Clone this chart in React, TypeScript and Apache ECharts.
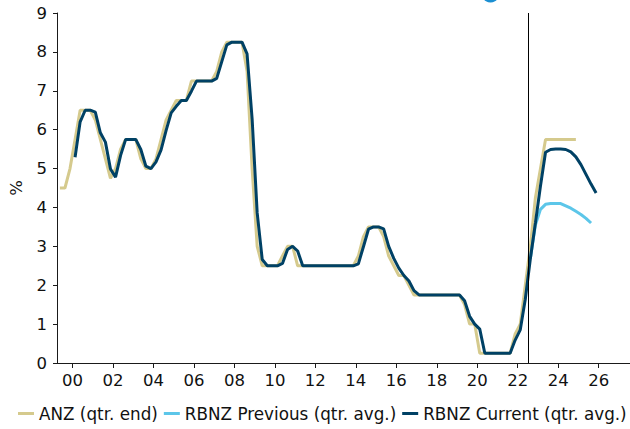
import React, { useEffect, useRef } from "react";
import * as echarts from "echarts";

// Quarterly series; index 0 = 1999 Q2, points plotted at mid-quarter
const FIRST_YEAR = 1999;
const FIRST_QUARTER = 2;

const anzStartIndex = 0; // 1999 Q2
const anzQtrEnd = [
  4.5, 4.5, 5.0, 5.75, 6.5, 6.5, 6.5, 6.25, 5.75, 5.25, 4.75, 5.0, 5.5, 5.75, 5.75, 5.75,
  5.25, 5.0, 5.0, 5.25, 5.75, 6.25, 6.5, 6.75, 6.75, 6.75, 7.25, 7.25, 7.25, 7.25, 7.25, 7.5,
  8.0, 8.25, 8.25, 8.25, 8.25, 7.5, 5.0, 3.0, 2.5, 2.5, 2.5, 2.5, 2.75, 3.0, 3.0, 2.5,
  2.5, 2.5, 2.5, 2.5, 2.5, 2.5, 2.5, 2.5, 2.5, 2.5, 2.5, 2.75, 3.25, 3.5, 3.5, 3.5,
  3.25, 2.75, 2.5, 2.25, 2.25, 2.0, 1.75, 1.75, 1.75, 1.75, 1.75, 1.75, 1.75, 1.75, 1.75, 1.75,
  1.5, 1.0, 1.0, 0.25, 0.25, 0.25, 0.25, 0.25, 0.25, 0.25, 0.75, 1.0, 2.0, 3.0, 4.25, 5.0,
  5.75, 5.75, 5.75, 5.75, 5.75, 5.75, 5.75,
];

const rbnzPreviousStartIndex = 93; // 2022 Q3
const rbnzPreviousAvg = [2.68, 3.55, 3.95, 4.08, 4.1, 4.1, 4.1, 4.04, 3.98, 3.9, 3.82, 3.72, 3.6];

const rbnzCurrentStartIndex = 3; // 2000 Q1
const rbnzCurrentAvg = [
  5.29, 6.2, 6.5, 6.5, 6.45, 5.92, 5.68, 4.99, 4.78, 5.34, 5.75, 5.75, 5.75, 5.49, 5.06, 5.0,
  5.17, 5.48, 5.98, 6.43, 6.6, 6.75, 6.75, 6.99, 7.25, 7.25, 7.25, 7.25, 7.32, 7.75, 8.18, 8.25,
  8.25, 8.25, 7.95, 6.28, 3.86, 2.66, 2.5, 2.5, 2.5, 2.56, 2.92, 3.0, 2.88, 2.5, 2.5, 2.5,
  2.5, 2.5, 2.5, 2.5, 2.5, 2.5, 2.5, 2.5, 2.55, 2.99, 3.44, 3.5, 3.5, 3.45, 3.0, 2.69,
  2.44, 2.25, 2.11, 1.86, 1.75, 1.75, 1.75, 1.75, 1.75, 1.75, 1.75, 1.75, 1.75, 1.6, 1.2, 1.0,
  0.87, 0.25, 0.25, 0.25, 0.25, 0.25, 0.25, 0.59, 0.85, 1.64, 2.68, 3.6, 4.55, 5.42, 5.49, 5.5,
  5.5, 5.49, 5.43, 5.3, 5.1, 4.85, 4.6, 4.37,
];

const xTickLabels = ["00", "02", "04", "06", "08", "10", "12", "14", "16", "18", "20", "22", "24", "26"];
const yTickLabels = ["0", "1", "2", "3", "4", "5", "6", "7", "8", "9"];
const forecastDivider = 2022.5;
const xMin = 1999.232;
const xMax = 2027.55;

const seriesNames = ["ANZ (qtr. end)", "RBNZ Previous (qtr. avg.)", "RBNZ Current (qtr. avg.)"];
const colors = ["#d5ca8d", "#5cc6e9", "#004165"];

function quarterMid(index: number): number {
  return FIRST_YEAR + (FIRST_QUARTER - 1 + index) / 4 + 0.125;
}

function toPoints(values: number[], start: number) {
  return values.map((v, i) => [quarterMid(start + i), v]);
}

export default function App() {
  const ref = useRef<HTMLDivElement>(null);

  useEffect(() => {
    if (!ref.current) return;
    const chart = echarts.init(ref.current, undefined, { renderer: "svg" });
    const tickYears = xTickLabels.map((t) => 2000 + parseInt(t, 10));
    const font = "DejaVu Sans, Verdana, sans-serif";
    const textColor = "#111111";
    const axisColor = "#1a1a1a";

    chart.setOption({
      animation: false,
      backgroundColor: "#ffffff",
      color: colors,
      textStyle: { fontFamily: font },
      grid: { left: 51, right: 0, top: 13, bottom: 66 },
      graphic: [
        {
          type: "circle",
          shape: { cx: 490.5, cy: -6.5, r: 9 },
          style: { fill: "#1b8fd2" },
          silent: true,
        },
      ],
      legend: {
        left: 18,
        top: 405,
        padding: 0,
        itemWidth: 16,
        itemHeight: 3,
        itemGap: 6,
        icon: "rect",
        data: seriesNames,
        textStyle: { fontSize: 16.8, color: textColor, fontFamily: font },
      },
      xAxis: {
        type: "value",
        min: xMin,
        max: xMax,
        splitLine: { show: false },
        axisLine: { show: true, lineStyle: { color: axisColor, width: 1 } },
        axisTick: {
          show: true,
          length: 5,
          customValues: tickYears,
          lineStyle: { color: axisColor },
        },
        axisLabel: {
          customValues: tickYears,
          margin: 9,
          fontSize: 16.5,
          color: textColor,
          fontFamily: font,
          formatter: (v: number) => xTickLabels[tickYears.indexOf(Math.round(v))] ?? "",
        },
      },
      yAxis: {
        type: "value",
        min: 0,
        max: 9,
        interval: 1,
        name: "%",
        nameLocation: "middle",
        nameGap: 32,
        nameRotate: 90,
        nameTextStyle: { fontSize: 16.5, color: textColor, fontFamily: font },
        splitLine: { show: false },
        axisLine: { show: true, lineStyle: { color: axisColor, width: 1 } },
        axisTick: { show: true, length: 4, lineStyle: { color: axisColor } },
        axisLabel: {
          margin: 10,
          fontSize: 16.5,
          color: textColor,
          fontFamily: font,
          formatter: (v: number) => yTickLabels[Math.round(v)] ?? "",
        },
      },
      series: [
        {
          name: seriesNames[0],
          type: "line",
          data: toPoints(anzQtrEnd, anzStartIndex),
          showSymbol: false,
          symbol: "none",
          lineStyle: { width: 3, color: colors[0] },
          z: 2,
        },
        {
          name: seriesNames[1],
          type: "line",
          data: toPoints(rbnzPreviousAvg, rbnzPreviousStartIndex),
          showSymbol: false,
          symbol: "none",
          lineStyle: { width: 3, color: colors[1] },
          z: 3,
        },
        {
          name: seriesNames[2],
          type: "line",
          data: toPoints(rbnzCurrentAvg, rbnzCurrentStartIndex),
          showSymbol: false,
          symbol: "none",
          lineStyle: { width: 3, color: colors[2] },
          z: 4,
          markLine: {
            silent: true,
            symbol: "none",
            label: { show: false },
            lineStyle: { color: "#000000", width: 1, type: "solid" },
            data: [{ xAxis: forecastDivider }],
          },
        },
      ],
    });

    return () => chart.dispose();
  }, []);

  return <div ref={ref} style={{ width: 630, height: 429, position: "absolute", left: 0, top: 0 }} />;
}
